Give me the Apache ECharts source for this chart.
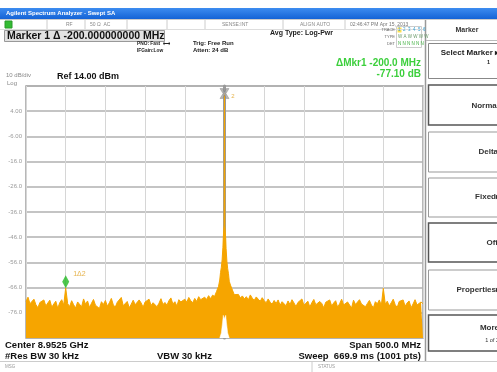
<!DOCTYPE html>
<html><head><meta charset="utf-8">
<script src="https://cdn.jsdelivr.net/npm/echarts@6/dist/echarts.min.js"></script>
<style>html,body{margin:0;padding:0;background:#fff;overflow:hidden}#c{width:497px;height:372px}</style>
</head><body><div id="c"></div>
<script>
// ---- data ----
const sweepStartMHz = -250;   // offset from center 8.9525 GHz
const sweepStepMHz = 2.5;
const noiseLevels = [
 -71.5,-69.8,-72.4,-73.1,-70.6,-72.8,-74.0,-71.9,-72.6,-70.9,
 -73.3,-72.1,-71.0,-73.8,-72.5,-71.4,-74.2,-72.0,-70.8,-72.9,
 -66.1,-72.4,-73.5,-71.2,-72.8,-74.1,-71.7,-72.3,-73.6,-70.5,
 -72.6,-71.3,-73.9,-72.2,-70.7,-73.0,-72.4,-74.3,-71.6,-72.7,
 -71.1,-73.4,-72.0,-70.3,-72.9,-73.7,-71.8,-72.5,-69.9,-73.2,
 -72.3,-71.5,-74.0,-72.6,-71.0,-72.8,-73.5,-70.9,-72.1,-73.8,
 -71.7,-72.4,-70.6,-73.1,-72.0,-71.3,-73.6,-72.2,-70.4,-72.7,
 -71.9,-73.0,-71.2,-70.1,-72.5,-71.6,-73.3,-70.8,-71.7,-72.2,
 -70.6,-71.8,-69.9,-71.2,-72.0,-70.3,-71.5,-69.6,-70.8,-71.1,
 -69.8,-70.7,-69.2,-70.4,-69.0,-68.5,-70.0,-70.0,-70.0,-70.0,
 -70.0,
 -70.0,-70.0,-70.0,-70.0,-68.8,-69.5,-68.7,-70.1,-69.3,-70.5,
 -69.6,-70.9,-68.9,-70.2,-71.0,-69.7,-70.6,-71.4,-70.0,-71.2,
 -72.0,-70.5,-71.8,-72.6,-71.1,-72.3,-70.9,-73.0,-71.6,-72.4,
 -73.2,-71.3,-72.7,-70.8,-72.1,-73.5,-71.9,-72.6,-70.5,-73.0,
 -72.2,-71.4,-73.7,-72.0,-70.7,-72.8,-73.4,-71.5,-72.3,-74.0,
 -71.8,-72.5,-70.9,-73.3,-72.1,-71.2,-73.8,-72.4,-70.6,-72.9,
 -73.5,-71.7,-72.2,-74.1,-71.0,-72.7,-73.2,-70.8,-72.5,-71.9,
 -73.6,-72.3,-71.1,-72.9,-74.0,-71.6,-72.4,-70.9,-73.1,-66.3,
 -72.6,-71.4,-73.3,-72.0,-70.6,-72.8,-73.9,-71.5,-72.2,-70.9,
 -73.4,-72.1,-71.3,-74.0,-72.5,-70.8,-72.9,-73.6,-71.7,-72.4
];
const carrierFreqs  = [-12.5,-10,-7.5,-6,-5,-4,-3,-2,-1.5,-1,-0.5,0,0.5,1,1.5,2,3,4,5,6,7.5,10,12.5];
const carrierLevels = [-69.5,-67.5,-65.5,-63,-60,-58,-55,-50,-46,-43.5,-41,11.0,-41.5,-44,-46.5,-50.5,-55.5,-58.5,-60.5,-63.5,-65,-67,-69];
const notchFreqs  = [-6,-4,-2.5,-1.5,-0.5,0.5,1.5,2.5,4,6];
const notchLevels = [-86,-84,-80,-77,-78.5,-78.5,-77,-80,-84,-86];
const markerFreqs  = [-200, 0];
const markerLevels = [-66.1, 11.0];
const markerNames  = ['1Δ2', '2'];
const yTickValues = [4,-6,-16,-26,-36,-46,-56,-66,-76];
const yTickLabels = ['4.00','-6.00','-16.0','-26.0','-36.0','-46.0','-56.0','-66.0','-76.0'];
const refLevel = 14, bottomLevel = -86, spanHalf = 250;

// ---- build ----
const ORANGE = '#F6A500';
const FONT = 'Arial, "Liberation Sans", sans-serif';
const noiseData = noiseLevels.map((v,i)=>[sweepStartMHz + i*sweepStepMHz, v]);
const carrierData = carrierFreqs.map((f,i)=>[f, carrierLevels[i]]);
const notchData = notchFreqs.map((f,i)=>[f, notchLevels[i]]);
const xPath = 'path://M0,0 L3,0 L5,3.6 L7,0 L10,0 L6.6,5 L10,10 L7,10 L5,6.4 L3,10 L0,10 L3.4,5 Z';
const markerData = markerFreqs.map((f,i)=> i===0 ? {
  value:[f, markerLevels[i]], symbol:'diamond', symbolSize:[7,13], symbolOffset:[0,-6],
  itemStyle:{color:'#22b922'},
  label:{show:true, formatter:markerNames[i], position:'right', offset:[-1,-8], color:'#E0A020', fontSize:7, fontFamily:FONT}
} : {
  value:[f, markerLevels[i]], symbol:xPath, symbolSize:[9,10],
  itemStyle:{color:'#a8a8a8', borderColor:'#777', borderWidth:0.5},
  label:{show:true, formatter:markerNames[i], position:'right', offset:[-3,3], color:'#E0A020', fontSize:6, fontFamily:FONT}
});

function T(x,y,text,o){o=o||{};return {type:'text',x:x,y:y,z:50,silent:true,style:{text:text,fill:o.c||'#111',
  font:(o.w||'bold')+' '+(o.s||8)+'px '+FONT,align:o.a||'left',verticalAlign:'middle'}};}
function R(x,y,w,h,o){o=o||{};return {type:'rect',z:o.z||40,silent:true,shape:{x:x,y:y,width:w,height:h},
  style:{fill:o.f||'none',stroke:o.s||'#999',lineWidth:o.lw||1}};}
function L(x1,y1,x2,y2,c,lw){return {type:'line',z:45,silent:true,shape:{x1:x1,y1:y1,x2:x2,y2:y2},style:{stroke:c||'#bbb',lineWidth:lw||1}};}

const graphics = [
  // title bar
  {type:'rect',z:40,silent:true,shape:{x:0,y:8,width:497,height:11},
   style:{fill:new echarts.graphic.LinearGradient(0,0,0,1,[{offset:0,color:'#3d8cf0'},{offset:1,color:'#1463d6'}])}},
  T(6,13.5,'Agilent Spectrum Analyzer - Swept SA',{c:'#fff',s:6}),
  // status row
  L(0,19.5,497,19.5,'#ccc'), L(0,29.5,425,29.5,'#ddd'),
  R(5,21,7,7,{f:'#33bb33',s:'#2a9a2a'}),
  L(47,20,47,29,'#ccc'), L(85,20,85,29,'#ccc'), L(127,20,127,29,'#ccc'), L(167,20,167,29,'#ccc'),
  L(205,20,205,29,'#ccc'), L(283,20,283,29,'#ccc'), L(345,20,345,29,'#ccc'),
  T(66,24.5,'RF',{s:5,w:'normal',c:'#888'}), T(90,24.5,'50 Ω  AC',{s:5,w:'normal',c:'#888'}),
  T(222,24.5,'SENSE:INT',{s:5,w:'normal',c:'#888'}), T(300,24.5,'ALIGN AUTO',{s:5,w:'normal',c:'#888'}),
  T(350,24.5,'02:46:47 PM Apr 15, 2013',{s:5,w:'normal',c:'#777'}),
  // marker box
  R(4.5,30.5,160,11,{f:'#e2e2e2',s:'#999'}),
  T(7,36.5,'Marker 1 Δ -200.000000000 MHz',{s:10.5,c:'#111'}),
  T(137,44,'PNO: Fast  ⟷',{s:4.8,c:'#222'}), T(137,50.5,'IFGain:Low',{s:4.8,c:'#222'}),
  T(193,43,'Trig: Free Run',{s:6,c:'#222'}), T(193,50.5,'Atten: 24 dB',{s:6,c:'#222'}),
  T(270,33.5,'Avg Type: Log-Pwr',{s:7,c:'#222'}),
  // trace table
  T(395,30,'TRACE',{s:4,w:'normal',c:'#666',a:'right'}), T(395,37,'TYPE',{s:4,w:'normal',c:'#666',a:'right'}),
  T(395,44,'DET',{s:4,w:'normal',c:'#666',a:'right'}),
  R(396.5,26.5,25,21,{s:'#ccc'}),
  R(397.5,27.5,4,5,{f:'#ffe14d',s:'none'}),
  T(398,30,'1  2  3  4  5  6',{s:4.5,w:'normal',c:'#3aa0d0'}),
  T(398,37,'W A W W W W',{s:4.5,w:'normal',c:'#6a9a6a'}),
  T(398,44,'N N N N N N',{s:4.5,w:'normal',c:'#40b040'}),
  // plot header
  T(6,75,'10 dB/div',{s:6,w:'normal',c:'#888'}), T(7,83,'Log',{s:6,w:'normal',c:'#888'}),
  T(57,77,'Ref 14.00 dBm',{s:9,c:'#111'}),
  T(421,63.5,'ΔMkr1 -200.0 MHz',{s:10,c:'#3ccf3c',a:'right'}),
  T(421,74.5,'-77.10 dB',{s:10,c:'#3ccf3c',a:'right'}),
  // bottom text
  T(5,345,'Center 8.9525 GHz',{s:9.5}), T(5,356,'#Res BW 30 kHz',{s:9.5}),
  T(157,356,'VBW 30 kHz',{s:9.5}),
  T(421,345,'Span 500.0 MHz',{s:9.5,a:'right'}), T(421,356,'Sweep  669.9 ms (1001 pts)',{s:9.5,a:'right'}),
  L(0,361.5,497,361.5,'#ccc'),
  T(5,367,'MSG',{s:4.5,w:'normal',c:'#999'}), T(318,367,'STATUS',{s:4.5,w:'normal',c:'#999'}),
  L(312,362,312,372,'#ccc'),
  // right panel
  L(425.5,20,425.5,361,'#999',1.5),
  T(467,30,'Marker',{s:7,c:'#333',a:'center'}),
  L(426,40.5,497,40.5,'#bbb'),
  R(428.5,43.5,75,35,{s:'#888'}),
  T(499,53,'Select Marker ▸',{s:8,c:'#222',a:'right'}), T(487,62,'1',{s:5.5,c:'#222'}),
  R(428.5,85,75,40,{s:'#555',lw:1.5}), T(499,106,'Normal',{s:8,c:'#333',a:'right'}),
  R(428.5,132,75,40,{s:'#999'}), T(498,152,'Delta',{s:8,c:'#333',a:'right'}),
  R(428.5,178,75,39,{s:'#999'}), T(500,197,'Fixed▸',{s:8,c:'#333',a:'right'}),
  R(428.5,223,75,39,{s:'#555',lw:1.5}), T(498,243,'Off',{s:8,c:'#333',a:'right'}),
  R(428.5,270,75,40,{s:'#999'}), T(500,290,'Properties▸',{s:8,c:'#333',a:'right'}),
  R(428.5,315,75,36,{s:'#555',lw:1.5}), T(499,328,'More',{s:8,c:'#333',a:'right'}),
  T(499,340,'1 of 2',{s:5.5,w:'normal',c:'#333',a:'right'})
];

const chart = echarts.init(document.getElementById('c'), null, {renderer:'canvas'});
chart.setOption({
  animation:false,
  backgroundColor:'#fff',
  grid:{left:26, top:86, width:397, height:252, show:true, borderColor:'#a0a0a0', borderWidth:1.5, containLabel:false},
  xAxis:{type:'value', min:-spanHalf, max:spanHalf, interval:50,
    axisLabel:{show:false}, axisTick:{show:false}, axisLine:{show:false},
    splitLine:{show:true, lineStyle:{color:'#d6d6d6', width:1}}},
  yAxis:{type:'value', min:bottomLevel, max:refLevel, interval:10,
    axisLine:{show:true, lineStyle:{color:'#999', width:3}},
    axisTick:{show:false},
    splitLine:{show:true, lineStyle:{color:'#b0b0b0', width:1.5}},
    axisLabel:{show:true, margin:4, color:'#999', fontSize:6, fontFamily:FONT,
      formatter:function(v){const k=yTickValues.indexOf(Math.round(v));return k<0?'':yTickLabels[k];}}},
  series:[
    {type:'line', data:noiseData, showSymbol:false, symbol:'none', z:3, sampling:null,
     lineStyle:{color:ORANGE, width:1}, areaStyle:{color:ORANGE, opacity:1, origin:'start'}},
    {type:'line', data:carrierData, showSymbol:false, symbol:'none', z:4,
     lineStyle:{color:ORANGE, width:1}, areaStyle:{color:ORANGE, opacity:1, origin:'start'}},
    {type:'line', data:notchData, showSymbol:false, symbol:'none', z:5,
     lineStyle:{color:'#fff', width:0.5}, areaStyle:{color:'#fff', opacity:1, origin:'start'}},
    {type:'scatter', data:markerData, z:10}
  ],
  graphic:graphics
});
</script></body></html>
